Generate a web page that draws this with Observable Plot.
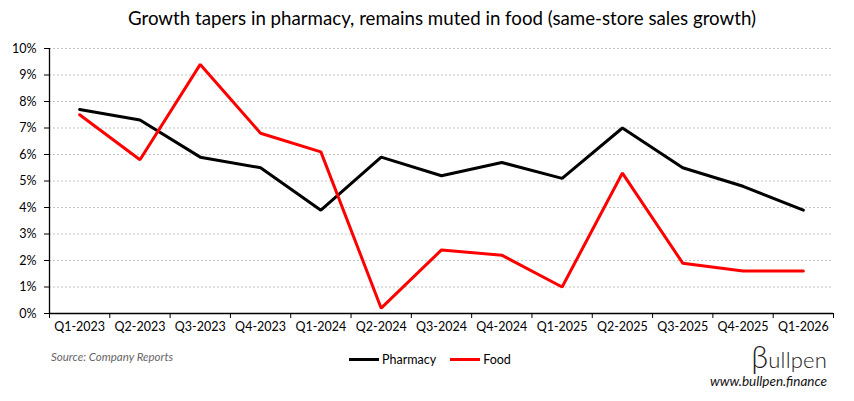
<!DOCTYPE html>
<html>
<head>
<meta charset="utf-8">
<script src="https://cdn.jsdelivr.net/npm/d3@7"></script>
<script src="https://cdn.jsdelivr.net/npm/@observablehq/plot@0.6"></script>
<style>
  html, body { margin: 0; padding: 0; background: #fff; }
  #wrap { position: relative; width: 854px; height: 401px; font-family: Lato, "Open Sans", sans-serif; color: #000; overflow: hidden; }
  #title { position: absolute; left: 15px; top: 5px; width: 854px; text-align: center; font-size: 18.7px; line-height: 26px; }
  #chart { position: absolute; left: 0; top: 36px; }
  #source { position: absolute; left: 51px; top: 350px; font-size: 11.5px; font-style: italic; color: #666; }
  #legend { position: absolute; left: 349px; top: 352px; font-size: 12.5px; display: flex; align-items: center; }
  .sw { display: inline-block; width: 30px; height: 3px; margin-right: 3px; }
  .item { display: flex; align-items: center; margin-right: 14px; }
  #logo { position: absolute; right: 27px; top: 337px; font-size: 22px; color: #222; font-weight: 300; letter-spacing: 0.2px; }
  #logo .b { font-size: 31px; font-weight: 300; }
  #url { position: absolute; right: 27px; top: 373px; font-size: 13.5px; font-style: italic; color: #111; }
</style>
</head>
<body>
<div id="wrap">
  <div id="title"></div>
  <div id="chart"></div>
  <div id="source"></div>
  <div id="legend"></div>
  <div id="logo"><span class="b">β</span>ullpen</div>
  <div id="url"></div>
</div>
<script>
const title = "Growth tapers in pharmacy, remains muted in food (same-store sales growth)";
const categories = ["Q1-2023","Q2-2023","Q3-2023","Q4-2023","Q1-2024","Q2-2024","Q3-2024","Q4-2024","Q1-2025","Q2-2025","Q3-2025","Q4-2025","Q1-2026"];
const pharmacy = [7.7, 7.3, 5.9, 5.5, 3.9, 5.9, 5.2, 5.7, 5.1, 7.0, 5.5, 4.8, 3.9];
const food     = [7.5, 5.8, 9.4, 6.8, 6.1, 0.2, 2.4, 2.2, 1.0, 5.3, 1.9, 1.6, 1.6];
const yTicks = [0,1,2,3,4,5,6,7,8,9,10];
const seriesNames = ["Pharmacy", "Food"];
const seriesColors = ["#000000", "#ff0000"];
const sourceText = "Source: Company Reports";
const urlText = "www.bullpen.finance";

document.getElementById("title").textContent = title;
document.getElementById("source").textContent = sourceText;
document.getElementById("url").textContent = urlText;

const legend = document.getElementById("legend");
seriesNames.forEach((n, k) => {
  const it = document.createElement("div");
  it.className = "item";
  const sw = document.createElement("span");
  sw.className = "sw";
  sw.style.background = seriesColors[k];
  const t = document.createElement("span");
  t.textContent = n;
  it.appendChild(sw); it.appendChild(t);
  legend.appendChild(it);
});

const data = categories.map((c, i) => ({i, c, pharmacy: pharmacy[i], food: food[i]}));
const boundaries = d3.range(categories.length + 1);
const centers = categories.map((c, i) => i + 0.5);

const chart = Plot.plot({
  width: 854,
  height: 304,
  marginLeft: 49,
  marginRight: 21,
  marginTop: 12,
  marginBottom: 27,
  x: {domain: [0, categories.length], axis: null},
  y: {domain: [0, 10], axis: null},
  style: {fontFamily: "Lato, 'Open Sans', sans-serif", fontSize: "12.5px", color: "#000", background: "#fff"},
  marks: [
    Plot.ruleY(yTicks.filter(d => d > 0), {stroke: "#c4c4c4", strokeDasharray: "2,2", strokeWidth: 1}),
    Plot.axisY({ticks: yTicks, tickFormat: d => d + "%", tickSize: 5, tickPadding: 8, fontSize: 12.5, stroke: "#000", strokeOpacity: 1}),
    Plot.axisX({ticks: boundaries, tickFormat: () => "", tickSize: 5, stroke: "#000", strokeOpacity: 1}),
    Plot.axisX({ticks: centers, tickFormat: d => categories[Math.floor(d)], tickSize: 0, tickPadding: 9, fontSize: 12.5}),
    Plot.ruleX([0], {stroke: "#000", strokeWidth: 1.3}),
    Plot.ruleY([0], {stroke: "#000", strokeWidth: 1.3}),
    Plot.lineY(data, {x: d => d.i + 0.5, y: "pharmacy", stroke: seriesColors[0], strokeWidth: 3, strokeLinejoin: "miter"}),
    Plot.lineY(data, {x: d => d.i + 0.5, y: "food", stroke: seriesColors[1], strokeWidth: 3, strokeLinejoin: "miter"})
  ]
});
document.getElementById("chart").appendChild(chart);
</script>
</body>
</html>
